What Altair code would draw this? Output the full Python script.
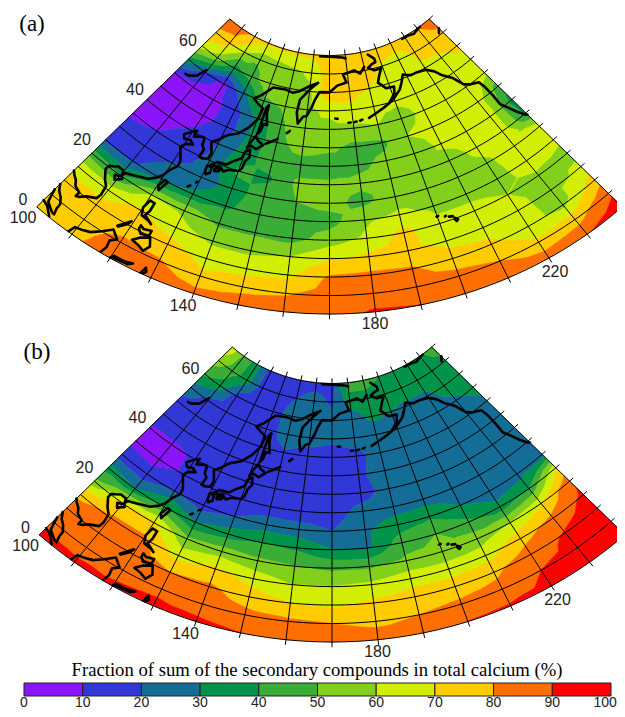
import math
import altair as alt

LONS = list(range(100, 250, 10))
LATS = list(range(0, 75, 5))

# Percent values read at graticule nodes: one list per meridian, lat 0..70 step 5
A_100 = [75,75,72,68,45,18,15,8,7,7,8,35,65,78,85]
A_110 = [78,77,73,66,40,18,14,10,7,6,6,18,55,75,85]
A_120 = [85,82,76,72,60,28,20,15,11,7,6,7,35,60,78]
A_130 = [86,81,74,64,58,32,22,22,20,14,15,25,45,52,72]
A_140 = [84,72,66,58,48,38,35,42,35,32,32,48,58,55,72]
A_150 = [85,77,66,58,48,46,45,38,46,46,48,52,55,58,72]
A_160 = [86,79,68,60,46,46,50,52,45,55,60,58,58,62,72]
A_170 = [87,84,81,69,55,46,53,52,44,52,57,62,78,76,76]
A_180 = [91,85,82,72,62,58,47,52,48,47,58,68,73,78,78]
A_190 = [90,84,81,72,73,62,55,52,52,48,60,62,70,78,78]
A_200 = [87,84,73,68,62,58,57,60,53,60,55,62,63,68,77]
A_210 = [87,80,72,66,64,56,55,55,62,63,63,63,62,63,78]
A_220 = [86,72,63,62,60,56,58,63,64,64,65,65,68,72,75]
A_230 = [89,75,57,57,58,66,66,66,66,65,66,68,68,75,80]
A_240 = [96,88,75,62,57,62,65,38,35,45,62,66,72,78,85]
PANEL_A = [A_100,A_110,A_120,A_130,A_140,A_150,A_160,A_170,A_180,A_190,A_200,A_210,A_220,A_230,A_240]

B_100 = [92,88,85,78,52,35,14,8,8,18,17,25,42,55,68]
B_110 = [92,85,85,82,72,30,13,7,8,16,15,18,35,45,48]
B_120 = [91,88,85,82,72,42,20,11,11,15,15,15,16,35,35]
B_130 = [92,88,80,66,52,30,15,15,15,14,13,15,15,15,15]
B_140 = [92,85,82,72,55,35,20,14,14,14,15,15,15,15,15]
B_150 = [90,83,75,66,52,40,25,14,14,14,19,25,25,20,15]
B_160 = [88,82,70,60,50,38,24,14,14,15,15,25,25,25,15]
B_170 = [85,80,68,60,48,30,20,15,14,14,15,22,25,18,15]
B_180 = [84,78,72,62,48,28,28,24,15,18,17,25,25,35,45]
B_190 = [84,80,74,66,52,45,35,25,25,25,24,25,32,35,45]
B_200 = [90,82,75,65,52,50,38,25,22,24,24,24,30,33,40]
B_210 = [91,83,78,65,55,42,30,25,24,24,24,24,28,35,38]
B_220 = [92,90,85,76,60,33,24,24,23,23,24,24,28,35,38]
B_230 = [94,92,91,83,68,40,24,24,24,24,24,28,35,36,38]
B_240 = [96,95,94,92,88,68,25,24,24,26,28,33,36,37,45]
PANEL_B = [B_100,B_110,B_120,B_130,B_140,B_150,B_160,B_170,B_180,B_190,B_200,B_210,B_220,B_230,B_240]

BANDS = [0,10,20,30,40,50,60,70,80,90,100]
COLORS = ["#8c14fa","#3238d8","#146d96","#00944a","#3aad36","#82d01c","#d2ee05","#ffcc00","#ff6e00","#ff0000"]

COAST = [
 [(100,13.5),(100.9,12.7),(102,12),(103,10.7),(104.8,10),(104.8,8.7),(105.5,9),(106.8,10.3),(109,11.5),(109.3,13),(108.9,15.5),(107.5,16.8),(105.8,19),(105.8,20.2),(106.8,20.8),(108,21.6),(109.8,21.5),(110.3,20.3),(110.6,21.2),(113,22),(114.2,22.4),(116.7,23.2),(118.5,24.6),(119.7,26),(120.5,28),(122,30),(121.8,31.6),(120.8,33),(119.4,34.8),(120.3,36.2),(122.5,37),(121,37.7),(119,37.2),(118,38.2),(119.5,39.5),(121.2,40.7),(121.3,39),(124.3,40),(125,39.5),(125.3,38),(126.6,37),(126.3,34.8),(127.5,34.7),(129.2,35.3),(129.4,37),(127.6,39.7),(129.5,41),(130.7,42.3),(132,43.2),(135,44.5),(138,47),(140.3,50),(140.7,53),(137.5,54),(135.3,54.8),(138,56.3),(142,59.2),(148,59.5),(152,59),(155,59.7),(160,61.5),(164,62.5),(160,60.5),(156,57.5),(155.5,54),(156.7,51),(158.5,53),(160,53.3),(162,56),(163,57.8),(165,60),(170,60),(174,61.8),(179,62.5),(177.5,64.7),(180,65),(184,65.5),(187,64.4),(190,66)],
 [(164,69.7),(170,69.7),(178,69.3),(180,69)],
 [(194,69),(197,67.5),(197,66.5),(195,66.3),(192,65.5),(195,64.5),(199,64.5),(197,63),(195,61),(198,59),(202,58.8),(201,57),(197,54.8),(200,55.8),(204,57.5),(206,59),(208.5,61),(210,60.5),(212,60),(215,60),(220,59.5),(223,58),(225,56),(228,54),(230,51),(232,50),(235.5,49),(236,47),(236,44),(235.7,41),(237,39),(238,37),(239.5,34.7),(240,34.4)],
 [(218,69.7),(222,69.7),(226,69.3),(230,69.8),(232,69.9)],
 [(238,65.5),(240,66.5),(239,66),(238,65.5)],
 [(197,54.8),(194,54),(190,53),(187,52.2)],
 [(184,52),(183,51.8)],[(180.5,51.6),(181.5,51.7)],[(178,51.6),(179,51.6)],[(172.5,52.9),(173.5,52.8)],
 [(103.7,51.6),(105,51.7),(108,53),(109.7,55.7)],
 [(141.9,46),(142.7,47),(143,49),(144.5,49),(143,52),(142.7,54.3),(142,53.5),(142,50),(142,47),(141.9,46)],
 [(130.9,34),(132.5,35.4),(135.5,35.6),(137,36.9),(139.5,38.5),(140,40.5),(141.3,41.4),(142,39.5),(141,38),(140.8,36),(140,35),(138,34.7),(136.8,34.5),(135.5,33.6),(134,34.5),(132.5,34.2),(130.9,34)],
 [(130,33.5),(131.5,33.6),(131.8,32),(130.8,31.2),(130.2,32),(130,33.5)],
 [(132.5,33.5),(134.6,34.2),(134.2,33.3),(132.8,32.8),(132.5,33.5)],
 [(140,41.6),(140.5,43.2),(141.7,45.3),(143,44.3),(145.3,43.5),(143.3,42),(141,42.5),(140,41.6)],
 [(146,44),(148,45),(150,46)],[(153,48),(154,48.7)],
 [(121,25.2),(122,25),(121,22),(120.2,23),(121,25.2)],
 [(108.7,19.3),(110.5,20),(111,19.5),(109.5,18.2),(108.7,19.3)],
 [(127.6,26.3),(128.2,26.8)],[(129.3,28.2),(129.6,28.5)],
 [(120.6,18.5),(122,18.4),(122,16),(121.5,14.5),(124,13),(123,13.5),(120.8,14),(120,16),(120.6,18.5)],
 [(122,7),(123.5,8.6),(125.5,9.7),(126.5,7.5),(125.5,5.7),(124,6.5),(122,7)],
 [(122,11.5),(123,11),(125,11.5),(125,10),(123,9.5),(122,10.5),(122,11.5)],
 [(117.2,8.4),(119.5,11.3),(119,10),(117.5,8.3)],
 [(109,0.2),(109.5,2),(111.3,2.5),(113,3.2),(115,5),(117,7),(119,5.2),(117.7,4),(118,2),(117.5,0.2)],
 [(100,2.5),(101.5,2),(103.5,0.2)],
 [(100,6.5),(100.4,5),(101,3),(103.3,1.5),(104,1.4),(103.5,3),(103.4,4.5),(102.3,6),(101,7),(100,8.5)],
 [(120,0.2),(120.5,1),(123,1),(125,1.5),(124,0.7),(121,0.5),(120,0.2)],
 [(127.5,0.2),(128,2),(128.5,1),(128,0.2)],
 [(199.8,22),(200.3,22.1)],[(202,21.4),(202.3,21.5)],[(203,21),(204,20.8)],[(204.3,20.2),(205,19.5),(204.5,19.2),(204.2,19.8),(204.3,20.2)],
]

LABEL_TEXT = ["60","40","20","0","100","140","180","220"]
LABEL_X = [188,135,82,23,23,183,375,555]
LABEL_Y = [41,90,140,200,218,306,324,272]
TICKS = [0,10,20,30,40,50,60,70,80,90,100]
TICK_POS = [0,10,20,30,40,50,60,70,80,90,99]

M = 8
def proj(lon, lat, dx=0.0, dy=0.0):
    rho = 392 - 3.693*lat
    a = math.radians(0.62*(lon-170))
    return (round(329.5+dx-M+1.087*rho*math.sin(a),2), round(-78+dy-M+rho*math.cos(a),2))

def clip(poly, level, keep_above):
    out = []
    for i in range(len(poly)):
        p, q = poly[i], poly[(i+1) % len(poly)]
        ip = p[2] >= level if keep_above else p[2] <= level
        iq = q[2] >= level if keep_above else q[2] <= level
        if ip:
            out.append(p)
        if ip != iq:
            t = (level-p[2])/(q[2]-p[2])
            out.append((p[0]+t*(q[0]-p[0]), p[1]+t*(q[1]-p[1]), level))
    return out

def band_features(panel, dx, dy, name):
    tris = []
    for i in range(len(LONS)-1):
        for j in range(len(LATS)-1):
            c = [(LONS[i],LATS[j],panel[i][j]),(LONS[i],LATS[j+1],panel[i][j+1]),
                 (LONS[i+1],LATS[j+1],panel[i+1][j+1]),(LONS[i+1],LATS[j],panel[i+1][j])]
            m = tuple(sum(v[k] for v in c)/4 for k in range(3))
            for k in range(4):
                tris.append([c[k], c[(k+1)%4], m])
    feats = []
    for b in range(len(BANDS)-1):
        polys = []
        for t in tris:
            p = clip(t, BANDS[b], True)
            if len(p) >= 3:
                p = clip(p, BANDS[b+1], False)
            if len(p) >= 3:
                ring = [list(proj(v[0], v[1], dx, dy)) for v in p]
                ring.append(ring[0])
                polys.append([ring])
        if polys:
            feats.append({"type":"Feature","geometry":{"type":"MultiPolygon","coordinates":polys},
                          "properties":{"band":b,"panel":name}})
    return feats

def graticule(dx, dy):
    lines = []
    for lon in LONS:
        lo, hi = (0, 70) if lon in (100, 240) else (-1.4, 71.4)
        n = 30
        lines.append([list(proj(lon, lo+(hi-lo)*k/n, dx, dy)) for k in range(n+1)])
    for lat in LATS:
        rho = 392-3.693*lat
        ext = 5/(1.087*rho*0.62*math.pi/180) if lat > 0 else 0
        hi = 240+ext
        n = 60
        lines.append([list(proj(100+(hi-100)*k/n, lat, dx, dy)) for k in range(n+1)])
    return lines

def coast(dx, dy):
    return [[list(proj(lon, lat, dx, dy)) for lon, lat in seg] for seg in COAST]

OFFSET_A = (0.0, 0.0)
OFFSET_B = (2.5, 328.0)

features = band_features(PANEL_A, *OFFSET_A, "a") + band_features(PANEL_B, *OFFSET_B, "b")
color_scale = alt.Scale(domain=list(range(10)), range=COLORS)
identity = dict(type="identity", scale=1, translate=[0, 0])

bands = alt.Chart(alt.Data(values=features)).mark_geoshape(strokeWidth=0.6).encode(
    color=alt.Color("properties.band:O", scale=color_scale, legend=None),
    stroke=alt.Color("properties.band:O", scale=color_scale, legend=None),
).project(**identity)

grid_feat = [{"type":"Feature","geometry":{"type":"MultiLineString","coordinates":graticule(*OFFSET_A)+graticule(*OFFSET_B)},"properties":{}}]
grid = alt.Chart(alt.Data(values=grid_feat)).mark_geoshape(filled=False, stroke="#000000", strokeWidth=1.0).project(**identity)

coast_feat = [{"type":"Feature","geometry":{"type":"MultiLineString","coordinates":coast(*OFFSET_A)+coast(*OFFSET_B)},"properties":{}}]
coasts = alt.Chart(alt.Data(values=coast_feat)).mark_geoshape(filled=False, stroke="#000000", strokeWidth=2.6, strokeJoin="round", strokeCap="round").project(**identity)

label_rows = []
for off in (OFFSET_A, OFFSET_B):
    for t, x, y in zip(LABEL_TEXT, LABEL_X, LABEL_Y):
        label_rows.append({"t":t, "x":x+off[0]-M, "y":y+off[1]-M})
labels = alt.Chart(alt.Data(values=label_rows)).mark_text(font="Liberation Sans", fontSize=16, color="#222222").encode(
    x=alt.X("x:Q", scale=None), y=alt.Y("y:Q", scale=None), text="t:N")

panel_rows = [{"t":"(a)","x":32-M,"y":24-M},{"t":"(b)","x":37-M,"y":352-M}]
panel_tags = alt.Chart(alt.Data(values=panel_rows)).mark_text(font="Liberation Serif", fontSize=23, color="#000000").encode(
    x=alt.X("x:Q", scale=None), y=alt.Y("y:Q", scale=None), text="t:N")

title_rows = [{"t":"Fraction of sum of the secondary compounds in total calcium (%)","x":317-M,"y":670-M}]
title = alt.Chart(alt.Data(values=title_rows)).mark_text(font="Liberation Serif", fontSize=18.7, color="#000000").encode(
    x=alt.X("x:Q", scale=None), y=alt.Y("y:Q", scale=None), text="t:N")

bar_scale = alt.Scale(domain=[0, 100], range=[24-M, 611-M])
bar_rows = [{"lo":BANDS[i],"hi":BANDS[i+1],"band":i} for i in range(10)]
bar = alt.Chart(alt.Data(values=bar_rows)).mark_rect(stroke="#222222", strokeWidth=1).encode(
    x=alt.X("lo:Q", scale=bar_scale, axis=None), x2="hi:Q",
    y=alt.value(683-M), y2=alt.value(696-M),
    color=alt.Color("band:O", scale=color_scale, legend=None))
tick_rows = [{"v":v, "p":p} for v, p in zip(TICKS, TICK_POS)]
bar_text = alt.Chart(alt.Data(values=tick_rows)).mark_text(font="Liberation Sans", fontSize=14, color="#222222").encode(
    x=alt.X("p:Q", scale=bar_scale, axis=None), y=alt.value(702.5-M), text="v:Q")

chart = alt.layer(bands, grid, coasts, labels, panel_tags, title, bar, bar_text).resolve_scale(
    x="independent", y="independent"
).properties(width=609, height=701, padding=0, autosize=alt.AutoSizeParams(type="none")).configure_view(stroke=None)

chart.save("out.html", embed_options={"renderer": "svg", "actions": False})
